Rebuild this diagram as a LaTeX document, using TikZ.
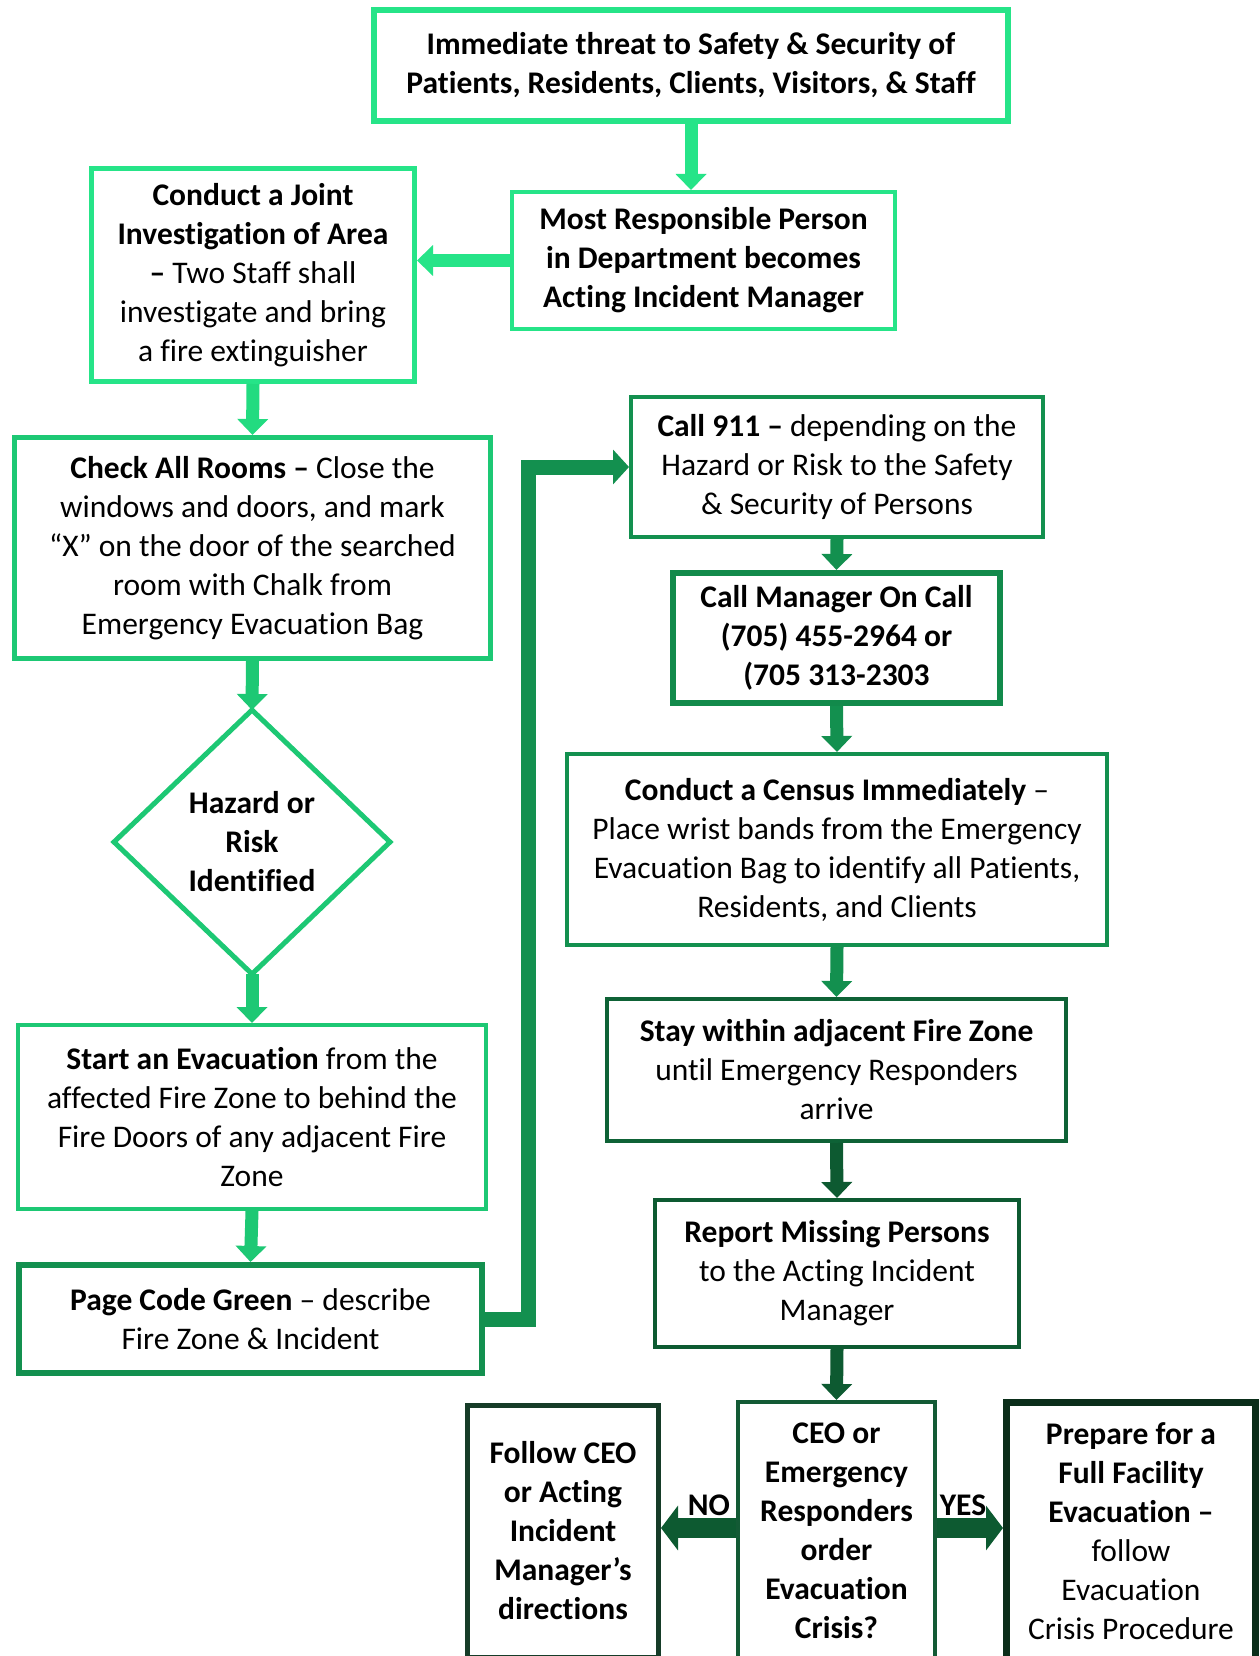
\documentclass[tikz,border=0pt]{standalone}
\usepackage{fontspec}
\setmainfont[Ligatures={NoCommon}]{Carlito}
\usetikzlibrary{arrows.meta,shapes.geometric}
\definecolor{gA}{HTML}{26E488}
\definecolor{gB}{HTML}{22DB80}
\definecolor{gC}{HTML}{1DC874}
\definecolor{gD}{HTML}{13904F}
\definecolor{gE}{HTML}{128A4B}
\definecolor{gF}{HTML}{0E6236}
\definecolor{gG}{HTML}{0D5A31}
\definecolor{gH}{HTML}{135A35}
\definecolor{gI}{HTML}{163C28}
\definecolor{gJ}{HTML}{0B2E1A}
\tikzset{
  box/.style={draw, rectangle, fill=white, align=center, inner sep=0pt, font=\fontsize{31.5}{39}\selectfont},
  flow/.style={line width=13pt, -{Triangle[width=30pt,length=16pt]}},
  bigflow/.style={line width=20pt, -{Triangle[width=44pt,length=17pt]}},
  lbl/.style={font=\fontsize{31.5}{39}\selectfont\bfseries, inner sep=0pt}
}
\begin{document}
\begin{tikzpicture}[x=1pt,y=-1pt]
\useasboundingbox (0,0) rectangle (1259,1656);
\clip (0,0) rectangle (1259,1656);
\fill[white] (0,0) rectangle (1259,1656);

\node[box, draw=gA, line width=6pt, minimum width=634pt, minimum height=111pt] (top) at (691,65.5)
 {\textbf{Immediate threat to Safety \& Security of}\\\textbf{Patients, Residents, Clients, Visitors, \& Staff}};
\node[box, draw=gA, line width=4pt, minimum width=383pt, minimum height=137pt] (mrp) at (703.5,260.5)
 {\textbf{Most Responsible Person}\\\textbf{in Department becomes}\\\textbf{Acting Incident Manager}};
\node[box, draw=gA, line width=5pt, minimum width=323pt, minimum height=213pt] (joint) at (253,275)
 {\textbf{Conduct a Joint}\\\textbf{Investigation of Area}\\\textbf{–} Two Staff shall\\investigate and bring\\a fire extinguisher};
\node[box, draw=gC, line width=5pt, minimum width=476pt, minimum height=221pt] (check) at (252.5,548)
 {\textbf{Check All Rooms –} Close the\\windows and doors, and mark\\“X” on the door of the searched\\room with Chalk from\\Emergency Evacuation Bag};
\draw[gC, line width=5pt, fill=white, line join=miter] (252,710) -- (390,842) -- (252,974) -- (114,842) -- cycle;
\node[box, draw=none, fill=none] (haz) at (252,842) {\textbf{Hazard or}\\\textbf{Risk}\\\textbf{Identified}};
\coordinate (hazN) at (252,710);
\coordinate (hazS) at (252,974);
\node[box, draw=gC, line width=4pt, minimum width=468pt, minimum height=184pt] (start) at (252,1117)
 {\textbf{Start an Evacuation} from the\\affected Fire Zone to behind the\\Fire Doors of any adjacent Fire\\Zone};
\node[box, draw=gD, line width=6pt, minimum width=463pt, minimum height=108pt] (page) at (250.5,1319)
 {\textbf{Page Code Green} – describe\\Fire Zone \& Incident};

\node[box, draw=gD, line width=4pt, minimum width=412pt, minimum height=140pt] (c911) at (837,467)
 {\textbf{Call 911 –} depending on the\\Hazard or Risk to the Safety\\\& Security of Persons};
\node[box, draw=gE, line width=6pt, minimum width=327pt, minimum height=130pt] (mgr) at (836.5,638)
 {\textbf{Call Manager On Call}\\\textbf{(705) 455-2964 or}\\\textbf{(705 313-2303}};
\node[box, draw=gD, line width=4pt, minimum width=540pt, minimum height=191pt] (census) at (837,849.5)
 {\textbf{Conduct a Census Immediately} –\\Place wrist bands from the Emergency\\Evacuation Bag to identify all Patients,\\Residents, and Clients};
\node[box, draw=gF, line width=4pt, minimum width=459pt, minimum height=142pt] (stay) at (836.5,1070)
 {\textbf{Stay within adjacent Fire Zone}\\until Emergency Responders\\arrive};
\node[box, draw=gG, line width=4pt, minimum width=364pt, minimum height=147pt] (report) at (837,1273.5)
 {\textbf{Report Missing Persons}\\to the Acting Incident\\Manager};
\node[box, draw=gH, line width=4pt, minimum width=197pt, minimum height=258pt] (ceo) at (836.5,1531)
 {\textbf{CEO or}\\\textbf{Emergency}\\\textbf{Responders}\\\textbf{order}\\\textbf{Evacuation}\\\textbf{Crisis?}};
\node[box, draw=gI, line width=5pt, minimum width=191pt, minimum height=252pt] (follow) at (563,1531)
 {\textbf{Follow CEO}\\\textbf{or Acting}\\\textbf{Incident}\\\textbf{Manager’s}\\\textbf{directions}};
\node[box, draw=gJ, line width=7pt, minimum width=249pt, minimum height=258pt] (prep) at (1131,1531)
 {\textbf{Prepare for a}\\\textbf{Full Facility}\\\textbf{Evacuation –}\\follow\\Evacuation\\Crisis Procedure};

\node[lbl] (no) at (709,1505) {NO};
\node[lbl] (yes) at (963,1505) {YES};

% connectors
\draw[flow, gA] (top.south) -- (top.south |- mrp.north);
\draw[flow, gA] (mrp.west) -- (joint.east |- mrp.west);
\draw[flow, gB] (joint.south) -- (check.north);
\draw[flow, gC] (check.south) -- (hazN);
\draw[flow, gC] (hazS) -- (start.north);
\draw[flow, gC] (start.south) -- (page.north);
\draw[line width=15pt, gD, -{Triangle[width=34pt,length=16pt]}, line join=miter]
  (page.east) -- ++(43,0) |- (c911.west);
\draw[flow, gD] (c911.south) -- (mgr.north);
\draw[flow, gD] (mgr.south) -- (census.north);
\draw[flow, gD] (census.south) -- (stay.north);
\draw[flow, gG] (stay.south) -- (report.north);
\draw[flow, gG] (report.south) -- (ceo.north);
\draw[bigflow, gG] ([yshift=3pt]ceo.west) -- ([yshift=3pt]ceo.west -| follow.east);
\draw[bigflow, gG] ([yshift=3pt]ceo.east) -- ([yshift=3pt]ceo.east -| prep.west);
\end{tikzpicture}
\end{document}
